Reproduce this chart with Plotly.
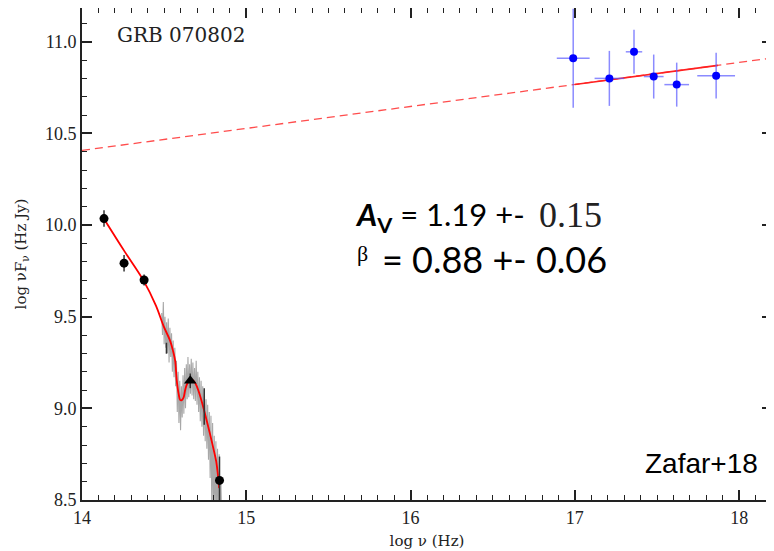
import plotly.graph_objects as go

# ---------------- data ----------------
# X-ray (blue) points
xray_x = [16.99, 17.21, 17.36, 17.48, 17.62, 17.86]
xray_y = [10.91, 10.80, 10.945, 10.81, 10.766, 10.815]
xray_xerr = [0.10, 0.09, 0.05, 0.06, 0.075, 0.115]
xray_yerr = [0.27, 0.15, 0.12, 0.12, 0.12, 0.125]

# optical/NIR photometry
phot_x = [14.134, 14.256, 14.378, 14.837]
phot_y = [10.035, 9.792, 9.700, 8.607]
phot_err = [0.045, 0.045, 0.03, 0.13]

open_x = [14.514, 14.744]
open_y = [9.328, 9.010]
open_err = [0.03, 0.10]

tri_x = [14.659]
tri_y = [9.150]
tri_err = [0.04]

# power-law model (dashed) and its X-ray part (solid)
pl_x = [14.0, 18.2]
pl_y = [10.407, 10.911]
pl_solid_x = [17.0, 17.87]
pl_solid_y = [10.767, 10.871]

# extinguished model curve (red)
model_x = [14.14, 14.26, 14.374, 14.45, 14.496, 14.537, 14.555, 14.567, 14.577,
           14.588, 14.598, 14.608, 14.618, 14.628, 14.638, 14.653, 14.669, 14.684,
           14.699, 14.72, 14.74, 14.76, 14.78, 14.80, 14.817, 14.827, 14.835]
model_y = [10.025, 9.855, 9.698, 9.56, 9.45, 9.367, 9.31, 9.26, 9.15,
           9.08, 9.045, 9.045, 9.058, 9.10, 9.13, 9.150, 9.157, 9.145,
           9.12, 9.065, 9.00, 8.93, 8.857, 8.78, 8.71, 8.64, 8.565]

# grey spectrum (hand read)
spec_x = [14.485, 14.49, 14.495, 14.50, 14.505, 14.51, 14.515, 14.52, 14.525, 14.53,
          14.535, 14.54, 14.545, 14.55, 14.555, 14.56, 14.565, 14.57, 14.575, 14.58,
          14.585, 14.59, 14.595, 14.60, 14.605, 14.61, 14.615, 14.62, 14.625, 14.63,
          14.635, 14.64, 14.645, 14.65, 14.655, 14.66, 14.665, 14.67, 14.675, 14.68,
          14.685, 14.69, 14.695, 14.70, 14.705, 14.71, 14.715, 14.72, 14.725, 14.73,
          14.735, 14.74, 14.745, 14.75, 14.755, 14.76, 14.765, 14.77, 14.775, 14.78,
          14.785, 14.79, 14.795, 14.80, 14.805, 14.81, 14.815, 14.82, 14.825, 14.83,
          14.835, 14.84, 14.845, 14.85]
spec_y = [9.52, 9.40, 9.58, 9.35, 9.50, 9.33, 9.47, 9.30, 9.49, 9.25,
          9.44, 9.28, 9.41, 9.20, 9.37, 9.17, 9.33, 9.12, 9.26, 8.98,
          9.20, 8.92, 9.15, 8.88, 9.12, 8.95, 9.18, 8.97, 9.22, 9.00,
          9.24, 9.05, 9.28, 9.06, 9.24, 9.08, 9.27, 9.07, 9.25, 9.05,
          9.22, 9.04, 9.26, 9.02, 9.20, 8.98, 9.17, 8.93, 9.15, 8.90,
          9.12, 8.85, 9.10, 8.82, 9.05, 8.78, 9.02, 8.72, 8.98, 8.62,
          8.96, 8.45, 8.92, 8.40, 8.85, 8.40, 8.82, 8.40, 8.78, 8.40,
          8.75, 8.40, 8.62, 8.40]

x_range = [14.0, 18.2]
y_range = [8.5, 11.184]

# ---------------- figure ----------------
fig = go.Figure()

fig.add_trace(go.Scatter(x=spec_x, y=spec_y, mode="lines",
                         line=dict(color="#a8a8a8", width=1.1), hoverinfo="skip"))

fig.add_trace(go.Scatter(x=pl_x, y=pl_y, mode="lines",
                         line=dict(color="#ff4d4d", width=1.3, dash="8px,5px")))
fig.add_trace(go.Scatter(x=pl_solid_x, y=pl_solid_y, mode="lines",
                         line=dict(color="#ff2020", width=1.6)))

fig.add_trace(go.Scatter(x=model_x, y=model_y, mode="lines", line_shape="spline",
                         line=dict(color="#ff0000", width=1.8)))

fig.add_trace(go.Scatter(
    x=xray_x, y=xray_y, mode="markers",
    marker=dict(color="#0000ff", size=8),
    error_x=dict(type="data", array=xray_xerr, color="rgba(90,90,255,0.7)", thickness=1.5, width=0),
    error_y=dict(type="data", array=xray_yerr, color="rgba(90,90,255,0.7)", thickness=1.5, width=0)))

fig.add_trace(go.Scatter(
    x=phot_x, y=phot_y, mode="markers",
    marker=dict(color="black", size=9),
    error_y=dict(type="data", array=phot_err, color="#333333", thickness=1.5, width=0)))

fig.add_trace(go.Scatter(
    x=open_x, y=open_y, mode="markers",
    marker=dict(color="rgba(0,0,0,0)", size=9, symbol="circle-open", line=dict(color="black", width=1.3)),
    error_y=dict(type="data", array=open_err, color="#333333", thickness=1.5, width=0)))

fig.add_trace(go.Scatter(
    x=tri_x, y=tri_y, mode="markers",
    marker=dict(color="black", size=11, symbol="triangle-up"),
    error_y=dict(type="data", array=tri_err, color="#333333", thickness=1.5, width=0)))

# invisible traces that activate the overlay axes used for the extra ticks
fig.add_trace(go.Scatter(x=x_range, y=y_range, xaxis="x2", yaxis="y2", mode="markers",
                         marker=dict(opacity=0), hoverinfo="skip"))
fig.add_trace(go.Scatter(x=x_range, y=y_range, xaxis="x3", yaxis="y3", mode="markers",
                         marker=dict(opacity=0), hoverinfo="skip"))

tick_color = "#222222"
axis_common = dict(
    showline=True, linecolor=tick_color, linewidth=1.8, mirror=True,
    ticks="inside", ticklen=10, tickwidth=1.6, tickcolor=tick_color,
    showgrid=False, zeroline=False, automargin=False, layer="above traces",
    tickfont=dict(family="Liberation Serif", size=18, color=tick_color),
)

fig.update_layout(
    xaxis=dict(range=x_range, tickmode="linear", tick0=14, dtick=1,
               title=dict(text="log \u03bd (Hz)", font=dict(family="DejaVu Serif", size=15, color=tick_color), standoff=9),
               **axis_common),
    yaxis=dict(range=y_range, tickmode="linear", tick0=8.5, dtick=0.5, tickformat=".1f",
               title=dict(text="log \u03bdF<sub>\u03bd</sub> (Hz Jy)", font=dict(family="DejaVu Serif", size=15, color=tick_color), standoff=15),
               **axis_common),
)

# overlay axes: major ticks on the top / right sides
overlay_major = dict(ticks="inside", ticklen=10, tickwidth=1.6, tickcolor=tick_color,
                     showticklabels=False, showline=False, showgrid=False, zeroline=False,
                     automargin=False, tickmode="linear")
# overlay axes: 0.1 minor ticks on all four sides
overlay_minor = dict(ticks="inside", ticklen=5, tickwidth=1.3, tickcolor=tick_color,
                     showticklabels=False, showline=True, linecolor=tick_color, linewidth=1.8,
                     mirror="allticks", showgrid=False, zeroline=False,
                     automargin=False, tickmode="linear", dtick=0.1)

annotations = [
    dict(x=14.20, y=11.037, text="GRB 070802", xanchor="left", yanchor="middle", showarrow=False,
         font=dict(family="DejaVu Serif", size=20, color="#222222")),
    dict(x=15.649, y=10.049, xanchor="left", yanchor="middle", showarrow=False,
         text="<b><i>A</i></b><b><sub>V</sub></b> = 1.19 +-",
         font=dict(family="Lato", size=31, color="black")),
    dict(x=16.77, y=10.057, xanchor="left", yanchor="middle", showarrow=False, text="0.15",
         font=dict(family="Liberation Serif", size=36, color="#222222")),
    dict(x=15.662, y=9.845, xanchor="left", yanchor="middle", showarrow=False, text="\u03b2",
         font=dict(family="Liberation Serif", size=22, color="black")),
    dict(x=15.814, y=9.815, xanchor="left", yanchor="middle", showarrow=False, text="= 0.88 +- 0.06",
         font=dict(family="Lato", size=36, color="black")),
    dict(x=17.415, y=8.70, xanchor="left", yanchor="middle", showarrow=False, text="Zafar+18",
         font=dict(family="Liberation Sans", size=28, color="black")),
]

# the page adds an 8px body margin, so the figure is 8px smaller than the window
fig.update_layout(
    template="none",
    width=766, height=543,
    margin=dict(l=74, r=2, t=0, b=51),
    paper_bgcolor="white", plot_bgcolor="white",
    font=dict(family="Liberation Serif", color="#222222"),
    showlegend=False,
    annotations=annotations,
    xaxis2=dict(overlaying="x", anchor="y2", side="top", range=x_range, tick0=14, dtick=1, **overlay_major),
    yaxis2=dict(overlaying="y", anchor="x2", side="right", range=y_range, tick0=8.5, dtick=0.5, **overlay_major),
    xaxis3=dict(overlaying="x", anchor="y3", side="bottom", range=x_range, tick0=14, **overlay_minor),
    yaxis3=dict(overlaying="y", anchor="x3", side="left", range=y_range, tick0=8.5, **overlay_minor),
)

fig.write_html("out.html")
